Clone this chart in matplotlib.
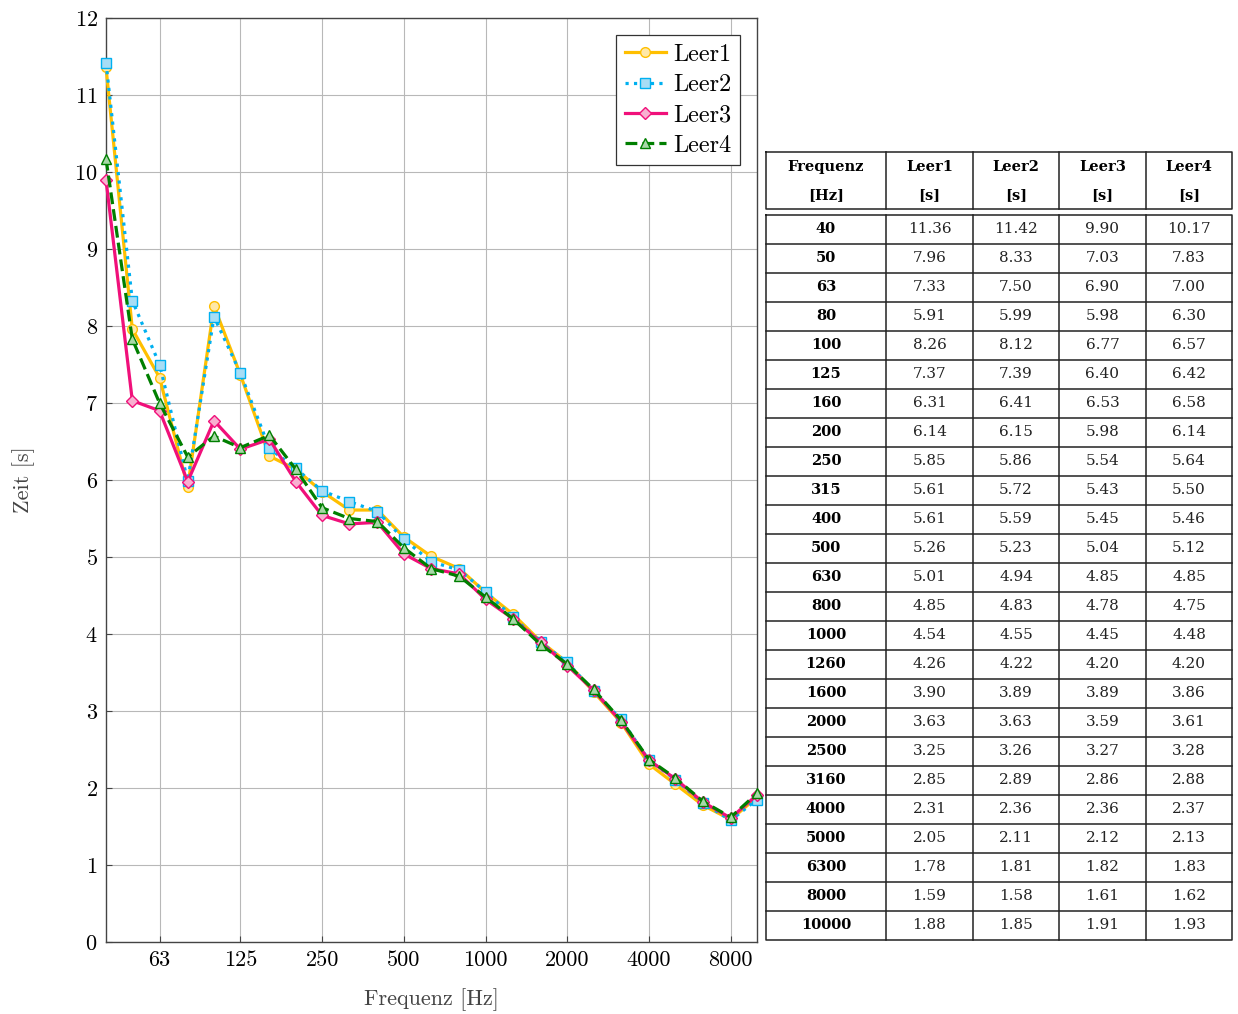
import matplotlib.pyplot as plt
import matplotlib as mpl

mpl.rcParams['font.family'] = 'cmr10'
mpl.rcParams['axes.formatter.use_mathtext'] = True
mpl.rcParams['mathtext.fontset'] = 'cm'

# data from the reference
freq = [40, 50, 63, 80, 100, 125, 160, 200, 250, 315, 400, 500, 630, 800,
        1000, 1260, 1600, 2000, 2500, 3160, 4000, 5000, 6300, 8000, 10000]
leer1 = [11.36, 7.96, 7.33, 5.91, 8.26, 7.37, 6.31, 6.14, 5.85, 5.61, 5.61, 5.26, 5.01,
         4.85, 4.54, 4.26, 3.90, 3.63, 3.25, 2.85, 2.31, 2.05, 1.78, 1.59, 1.88]
leer2 = [11.42, 8.33, 7.50, 5.99, 8.12, 7.39, 6.41, 6.15, 5.86, 5.72, 5.59, 5.23, 4.94,
         4.83, 4.55, 4.22, 3.89, 3.63, 3.26, 2.89, 2.36, 2.11, 1.81, 1.58, 1.85]
leer3 = [9.90, 7.03, 6.90, 5.98, 6.77, 6.40, 6.53, 5.98, 5.54, 5.43, 5.45, 5.04, 4.85,
         4.78, 4.45, 4.20, 3.89, 3.59, 3.27, 2.86, 2.36, 2.12, 1.82, 1.61, 1.91]
leer4 = [10.17, 7.83, 7.00, 6.30, 6.57, 6.42, 6.58, 6.14, 5.64, 5.50, 5.46, 5.12, 4.85,
         4.75, 4.48, 4.20, 3.86, 3.61, 3.28, 2.88, 2.37, 2.13, 1.83, 1.62, 1.93]
xticks = [63, 125, 250, 500, 1000, 2000, 4000, 8000]
header = [('Frequenz', '[Hz]'), ('Leer1', '[s]'), ('Leer2', '[s]'), ('Leer3', '[s]'), ('Leer4', '[s]')]

W, H = 1238, 1014
fig = plt.figure(figsize=(W / 100, H / 100), dpi=100)
ax = fig.add_axes([106 / W, 1 - 942 / H, 651 / W, 924 / H])

styles = [
    (leer1, 'Leer1', '#FFBF00', '-', 'o', '#FFE8A8'),
    (leer2, 'Leer2', '#00B0F0', ':', 's', '#A8DDF5'),
    (leer3, 'Leer3', '#F0107A', '-', 'D', '#F8B0D0'),
    (leer4, 'Leer4', '#007F00', '--', '^', '#A8D8A8'),
]
for vals, name, col, ls, mk, face in styles:
    ax.plot(freq, vals, color=col, linestyle=ls, linewidth=2.3, marker=mk,
            markersize=7 if mk != 'D' else 6.5, markerfacecolor=face,
            markeredgecolor=col, markeredgewidth=1.0, label=name, clip_on=False, zorder=3)

ax.set_xscale('log')
ax.set_xlim(40, 10000)
ax.set_ylim(0, 12)
ax.set_xticks(xticks)
ax.set_xticklabels([str(t) for t in xticks])
ax.xaxis.set_minor_locator(mpl.ticker.NullLocator())
ax.set_yticks(range(0, 13))
ax.tick_params(direction='in', labelsize=16, length=4, width=0.8, colors='#444444',
               labelcolor='black', pad=6)
ax.grid(True, color='#b8b8b8', linewidth=0.8)
ax.set_axisbelow(True)
for s in ax.spines.values():
    s.set_color('#444444')
    s.set_linewidth(1.0)
ax.set_xlabel('Frequenz [Hz]', fontsize=16, color='#444444', labelpad=13)
ax.set_ylabel('Zeit [s]', fontsize=16, color='#444444', labelpad=28)

leg = ax.legend(loc='upper right', fontsize=17.5, fancybox=False, edgecolor='#333333',
                framealpha=1, handlelength=1.7, borderpad=0.35, labelspacing=0.34,
                handletextpad=0.3, borderaxespad=0.7)
leg.get_frame().set_linewidth(0.9)

# table on the right
tab = fig.add_axes([0, 0, 1, 1])
tab.set_xlim(0, W)
tab.set_ylim(H, 0)
tab.axis('off')

cols = [766, 886, 973, 1059, 1146, 1232]
head_top, head_bot = 152, 209
body_top, row_h = 214.5, 29.0
nrows = len(freq)
body_bot = body_top + nrows * row_h
lc, lw = '#222222', 1.1
tfont = 'DejaVu Serif'

tab.plot([cols[0], cols[-1], cols[-1], cols[0], cols[0]],
         [head_top, head_top, head_bot, head_bot, head_top], color=lc, lw=lw)
tab.plot([cols[0], cols[-1], cols[-1], cols[0], cols[0]],
         [body_top, body_top, body_bot, body_bot, body_top], color=lc, lw=lw)
for x in cols[1:-1]:
    tab.plot([x, x], [head_top, head_bot], color=lc, lw=lw)
    tab.plot([x, x], [body_top, body_bot], color=lc, lw=lw)
for i in range(1, nrows):
    y = body_top + i * row_h
    tab.plot([cols[0], cols[-1]], [y, y], color=lc, lw=lw)

for j, (l1, l2) in enumerate(header):
    cx = (cols[j] + cols[j + 1]) / 2
    tab.text(cx, 167, l1, ha='center', va='center', fontsize=10.5, family=tfont, weight='bold')
    tab.text(cx, 195, l2, ha='center', va='center', fontsize=10.5, family=tfont, weight='bold')

series = [leer1, leer2, leer3, leer4]
for i in range(nrows):
    cy = body_top + (i + 0.5) * row_h
    tab.text((cols[0] + cols[1]) / 2, cy, str(freq[i]), ha='center', va='center',
             fontsize=10.5, family=tfont, weight='bold')
    for j, s in enumerate(series):
        cx = (cols[j + 1] + cols[j + 2]) / 2
        tab.text(cx, cy, '%.2f' % s[i], ha='center', va='center', fontsize=11,
                 family=tfont, color='#222222')

fig.savefig('out.png', dpi=100)
